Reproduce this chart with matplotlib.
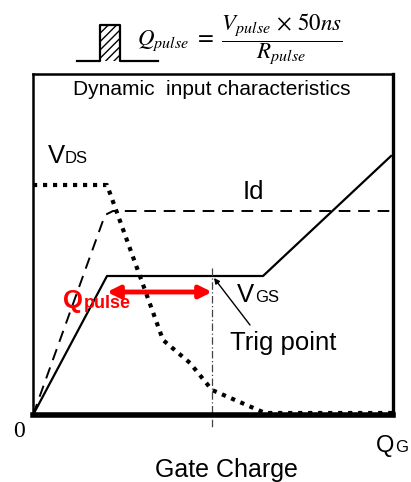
import matplotlib
matplotlib.use('Agg')
import matplotlib.pyplot as plt
from matplotlib.patches import Rectangle

# curves (x = gate charge, y = level), arbitrary units
vgs_x = [0, 74, 230, 358]
vgs_y = [0, 139, 139, 259]
id_x = [0, 72, 80, 360]
id_y = [0, 200, 204, 204]
vds_x = [0, 74, 130, 157, 179, 232, 359]
vds_y = [230, 230, 75, 52, 25, 2, 2]

trig_x = 179
plateau_y = 139
pulse_start, pulse_end = 74, 179

plt.rcParams['font.family'] = ['Liberation Sans', 'DejaVu Sans']
plt.rcParams['mathtext.fontset'] = 'stix'

W, H = 411, 482
fig = plt.figure(figsize=(W / 100, H / 100), dpi=100)
ax = fig.add_axes([33 / W, 1 - 415 / H, 360 / W, 341 / H])
ax.set_xlim(0, 360)
ax.set_ylim(0, 341)
ax.set_xticks([])
ax.set_yticks([])
for side, lw in [('left', 1.8), ('top', 1.8), ('right', 2.4), ('bottom', 4)]:
    ax.spines[side].set_linewidth(lw)
    ax.spines[side].set_color('black')

ax.plot(vgs_x, vgs_y, color='black', lw=1.6)
ax.plot(id_x, id_y, color='black', lw=1.4, linestyle=(0, (6, 4)))
ax.plot(vds_x, vds_y, color='black', lw=3, linestyle=(0, (1, 1.4)))

# trig point vertical
ax.plot([trig_x, trig_x], [plateau_y + 8, -13], color='#444444', lw=0.9,
        linestyle=(0, (6, 2, 1, 2)), clip_on=False)

# Q pulse arrow
ax.annotate('', xy=(pulse_start, 123), xytext=(pulse_end, 123),
            arrowprops=dict(arrowstyle='<|-|>', color='red', lw=3.5,
                            mutation_scale=18, shrinkA=0, shrinkB=0))
ax.annotate('', xy=(181, 137), xytext=(217, 90),
            arrowprops=dict(arrowstyle='-|>', color='black', lw=1.0,
                            mutation_scale=8, shrinkA=0, shrinkB=0))

big = 18.5
small = 12
ax.text(179, 320, 'Dynamic  input characteristics', ha='center', va='baseline', fontsize=15)
ax.text(15, 252, 'V', fontsize=big, va='baseline')
ax.text(32, 252, 'DS', fontsize=small, va='baseline')
ax.text(210, 216, 'Id', fontsize=big, va='baseline')
ax.text(204, 113, 'V', fontsize=big, va='baseline')
ax.text(222, 113, 'GS', fontsize=small, va='baseline')
ax.text(197, 65, 'Trig point', fontsize=big, va='baseline')
ax.text(30, 107, 'Q', fontsize=big, va='baseline', color='red', fontweight='bold')
ax.text(51, 107, 'pulse', fontsize=13, va='baseline', color='red', fontweight='bold')
ax.text(-14, -22, '0', fontsize=17, va='baseline', ha='center', family='Liberation Serif', clip_on=False)
ax.text(343, -37, 'Q', fontsize=17, va='baseline', clip_on=False)
ax.text(362, -37, 'G', fontsize=small, va='baseline', clip_on=False)
ax.text(193, -62, 'Gate Charge', fontsize=18, va='baseline', ha='center', clip_on=False)

# pulse symbol
ax.plot([44, 67, 67, 87, 87, 125], [354, 354, 390, 390, 354, 354], color='black',
        lw=1.6, clip_on=False)
ax.add_patch(Rectangle((67, 354), 20, 36, fill=False, hatch='////', lw=0, clip_on=False))

fig.text(137 / W, 1 - 39 / H,
         r'$Q_{pulse}\ =\ \dfrac{V_{pulse}\,\times\,50ns}{R_{pulse}}$',
         fontsize=16.5, va='center', ha='left')

fig.savefig('out.png', dpi=100)
